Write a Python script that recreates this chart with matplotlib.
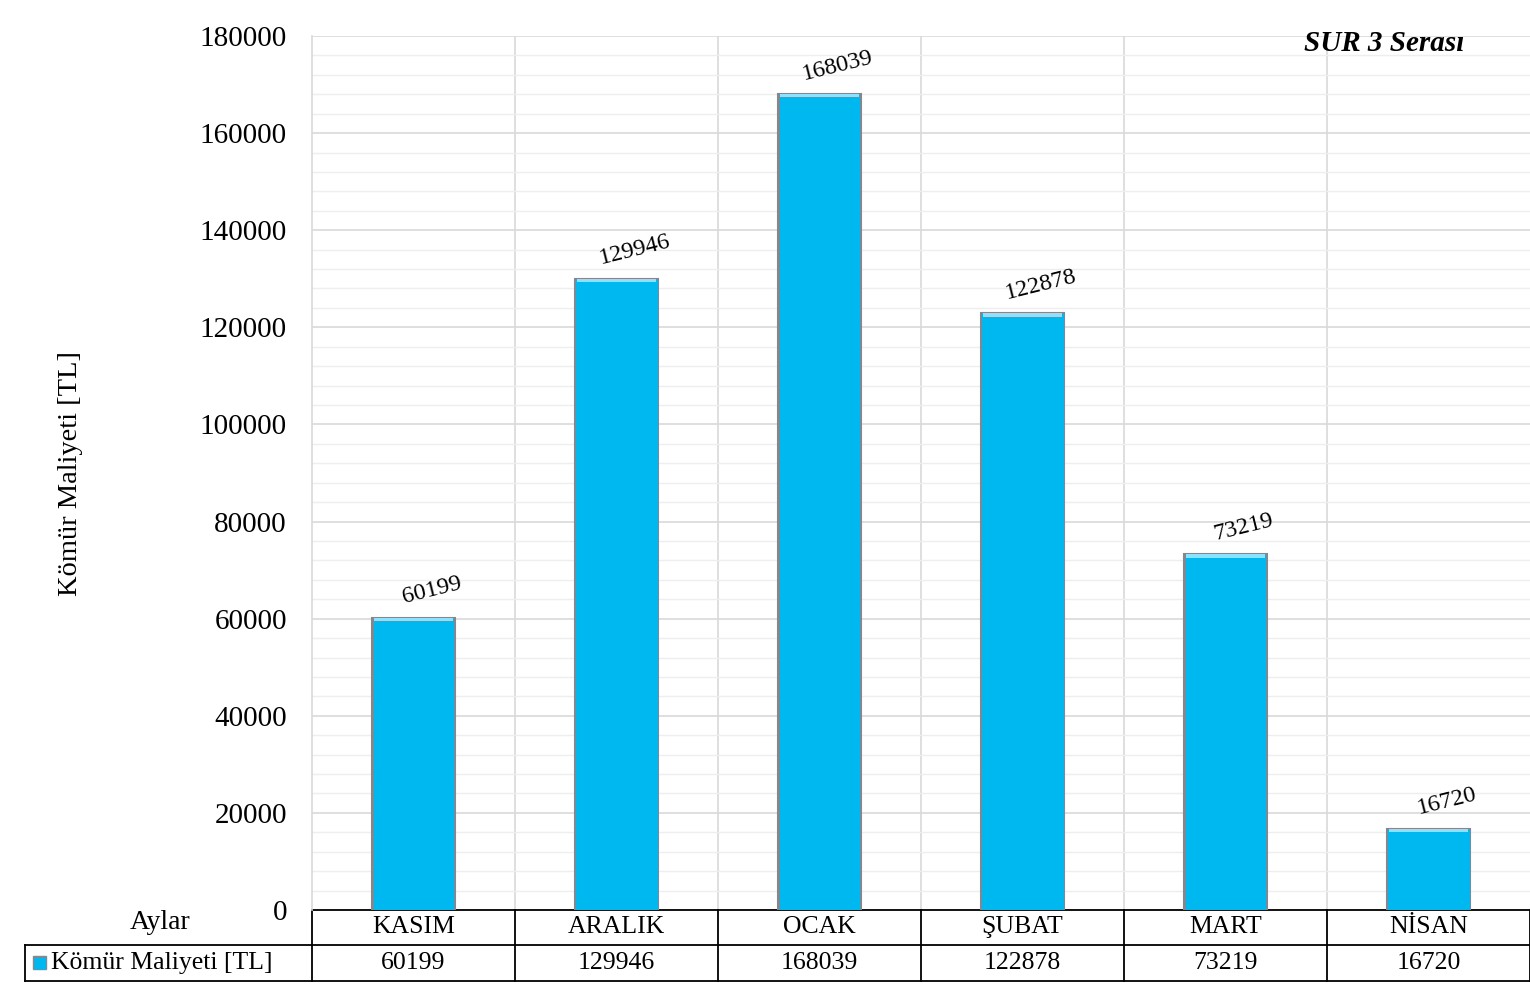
import numpy as np
import matplotlib.pyplot as plt
from matplotlib.transforms import blended_transform_factory
from matplotlib.lines import Line2D
from matplotlib.patches import Rectangle

plt.rcParams['font.family'] = ['Liberation Serif', 'DejaVu Serif']

aylar = ['KASIM', 'ARALIK', 'OCAK', 'ŞUBAT', 'MART', 'NİSAN']
maliyet = [60199, 129946, 168039, 122878, 73219, 16720]
seri_adi = 'Kömür Maliyeti [TL]'

fig = plt.figure(figsize=(15.3, 10), dpi=100)
ax = fig.add_axes([0.2039, 0.09, 0.7961, 0.874])

x = np.arange(len(aylar))
ax.set_xlim(-0.5, len(aylar) - 0.5)
ax.set_ylim(0, 180000)

# gridlines
ax.set_yticks(np.arange(0, 180001, 20000))
ax.set_yticks(np.arange(0, 180001, 4000), minor=True)
ax.grid(axis='y', which='major', color='#d9d9d9', lw=1.2, zorder=0)
ax.grid(axis='y', which='minor', color='#eeeeee', lw=1.0, zorder=0)
for b in np.arange(0.5, len(aylar) - 0.5, 1):
    ax.axvline(b, color='#d9d9d9', lw=1.2, zorder=0)
ax.tick_params(axis='y', which='both', length=0, labelsize=21, pad=18)
ax.set_xticks([])
for s in ['top', 'right']:
    ax.spines[s].set_visible(False)
ax.spines['left'].set_color('#d9d9d9')
ax.spines['left'].set_linewidth(1.2)
ax.spines['bottom'].set_visible(False)
ax.set_ylabel(seri_adi, fontsize=20.5, labelpad=84)

# bars with a simple bevel look
bars = ax.bar(x, maliyet, width=0.41, color='#00b8f0', edgecolor='#7d8a96',
              linewidth=1.5, zorder=3)
for xi, v in zip(x, maliyet):
    ax.bar(xi, 700, bottom=v - 700, width=0.39, color='#8ae2ff',
           edgecolor='none', zorder=4)
    ax.text(xi + 0.09, v + 2000, f'{v}', fontsize=17.5, rotation=14,
            ha='center', va='bottom', zorder=5)

ax.text(0.9465, 1.007, 'SUR 3 Serası', transform=ax.transAxes, fontsize=21,
        fontweight='bold', fontstyle='italic', ha='right', va='top')

# data table below the plot
tr = blended_transform_factory(ax.transData, ax.transAxes)
r1 = -0.040
r2 = -0.081
lx = -0.2352
lw = 1.3
ax.add_line(Line2D([-0.5, 5.5], [0, 0], transform=tr, color='black', lw=lw, clip_on=False))
ax.add_line(Line2D([-0.5, 5.5], [r1, r1], transform=tr, color='black', lw=lw, clip_on=False))
ax.add_line(Line2D([lx, 1], [r2, r2], transform=ax.transAxes, color='black', lw=lw, clip_on=False))
ax.add_line(Line2D([lx, 0], [r1, r1], transform=ax.transAxes, color='black', lw=lw, clip_on=False))
ax.add_line(Line2D([lx, lx], [r1, r2], transform=ax.transAxes, color='black', lw=lw, clip_on=False))
for b in np.arange(-0.5, len(aylar) + 0.5, 1):
    ax.add_line(Line2D([b, b], [0, r2], transform=tr, color='black', lw=lw, clip_on=False))
for xi, ay, v in zip(x, aylar, maliyet):
    ax.text(xi, r1 / 2, ay, transform=tr, ha='center', va='center', fontsize=18.5)
    ax.text(xi, (r1 + r2) / 2, f'{v}', transform=tr, ha='center', va='center', fontsize=18.5)
ax.text(lx + 0.021, (r1 + r2) / 2, seri_adi, transform=ax.transAxes,
        ha='left', va='center', fontsize=18.5)
ax.add_patch(Rectangle((lx + 0.006, (r1 + r2) / 2 - 0.007), 0.011, 0.015,
                       transform=ax.transAxes, facecolor='#00b8f0',
                       edgecolor='#7d8a96', lw=1, clip_on=False))
ax.text(-0.125, 0.0, 'Aylar', transform=ax.transAxes, fontsize=20,
        ha='center', va='top')

fig.savefig('out.png', dpi=100)
